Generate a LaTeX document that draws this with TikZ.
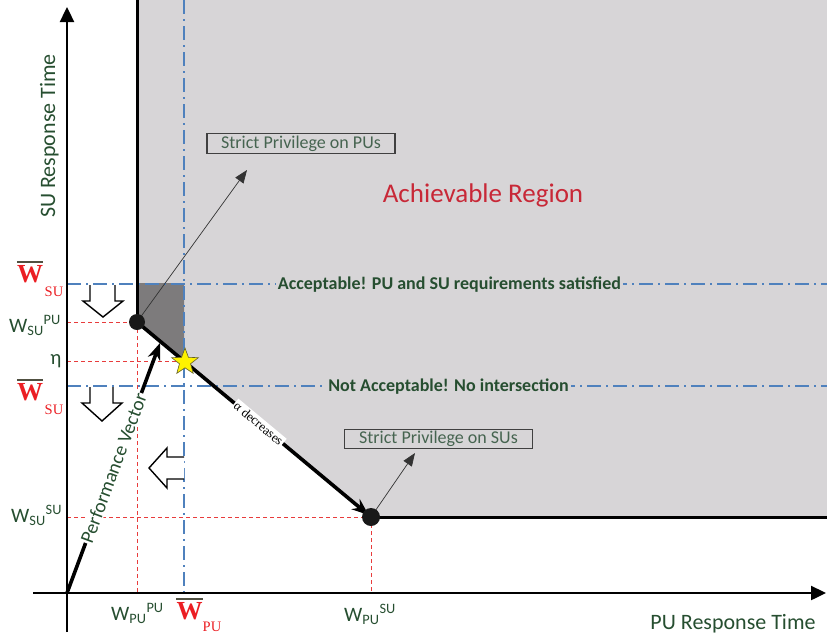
\documentclass[tikz,border=0pt]{standalone}
\usepackage{fontspec}
\setmainfont{Carlito}
\newfontfamily\serifW{Liberation Serif}
\usetikzlibrary{arrows.meta,shapes.geometric}

\definecolor{regiongray}{RGB}{215,213,215}
\definecolor{darkpatch}{RGB}{125,123,124}
\definecolor{lblgreen}{RGB}{38,78,48}
\definecolor{boxgreen}{RGB}{70,100,80}
\definecolor{guideblue}{RGB}{79,129,189}
\definecolor{guidered}{RGB}{232,60,60}
\definecolor{barred}{RGB}{235,30,35}
\definecolor{titlered}{RGB}{200,40,55}
\definecolor{barline}{RGB}{80,80,65}

\newcommand\setfs[1]{\fontsize{#1}{#1}\selectfont}
\newcommand\Wlab[2]{W\textsubscript{#1}\textsuperscript{#2}}

\begin{document}
\begin{tikzpicture}[x=1pt,y=-1pt,
  axisline/.style={line width=2.4pt,-{Triangle[length=15pt,width=14pt]}},
  guide/.style={guideblue,line width=1.4pt,dash pattern=on 14pt off 5pt on 2pt off 5pt},
  reddash/.style={guidered,line width=0.9pt,dash pattern=on 4pt off 3pt},
  boundary/.style={line width=3pt},
  thickarrow/.style={line width=3.6pt,-{Stealth[length=17pt,width=13pt]}},
  thinarrow/.style={draw=black!80,line width=0.7pt,-{Triangle[length=13pt,width=10pt]}},
  blockarrow/.style={draw=black,fill=white,line width=1.4pt,line join=miter},
  privbox/.style={draw=black!75,line width=1.2pt,text=boxgreen,font=\setfs{18},
    minimum width=188pt,minimum height=19.5pt,inner sep=0pt},
  verdict/.style={text=lblgreen,font=\setfs{18}\bfseries,fill=regiongray,inner xsep=2pt,inner ysep=0pt},
  wlab/.style={text=lblgreen,font=\setfs{20.5},inner sep=0pt},
  barW/.style={text=barred,font=\serifW\setfs{26}\bfseries,inner sep=0pt},
  barsub/.style={text=barred,font=\serifW\setfs{14.5},inner sep=0pt},
  overbar/.style={draw=barline,line width=1.3pt},
  axlabel/.style={text=lblgreen,font=\setfs{22},inner sep=0pt},
  dot/.style={fill=black!90}]

\useasboundingbox (0,0) rectangle (827,641);

% key points
\coordinate (O) at (67,593);
\coordinate (yTop) at (67,7);
\coordinate (yBot) at (67,632);
\coordinate (xLeft) at (33,593);
\coordinate (xRight) at (826,593);
\coordinate (A) at (137,322);   % best point for PUs
\coordinate (B) at (371,517);   % best point for SUs
\coordinate (S) at (184,361);   % operating point
\coordinate (P) at (160,343);   % tip of the performance vector

% achievable region
\fill[regiongray] (137,0) -- (827,0) -- (827,517) -- (B) -- (A) -- cycle;
\fill[darkpatch] (137,283) -- (184,283) -- (S) -- (A) -- cycle;

% projections onto the axes
\draw[reddash] (67,322) -- (A);
\draw[reddash] (A) -- (137,593);
\draw[reddash] (67,361) -- (S);
\draw[reddash] (67,517) -- (B);
\draw[reddash] (B) -- (371,593);

% delay thresholds
\draw[guide] (67,284) -- (827,284);
\draw[guide] (67,386) -- (827,386);
\draw[guide] (184,0) -- (184,593);

% axes
\draw[line width=2.4pt] (O) -- (yBot);
\draw[axisline] (yBot) -- (yTop);
\draw[axisline] (xLeft) -- (xRight);

% region boundary
\draw[boundary] (137,0) -- (A);
\draw[boundary] (B) -- (827,517);
\draw[thickarrow,shorten >=3pt] (A) -- node[sloped,pos=0.52,fill=white,inner sep=1.5pt,
  font=\serifW\setfs{13}] (alpha) {α decreases} (B);

% performance vector
\draw[thickarrow] (O) -- node[sloped,pos=0.5,fill=white,inner sep=1pt,text=lblgreen,
  font=\setfs{19.5}] (pv) {Performance Vector} (P);

% hollow block arrows
\draw[blockarrow] (90,285) -- (90,301) -- (83,301) -- (103,317) -- (123,301) -- (115,301) -- (115,285);
\draw[blockarrow] (90,387) -- (90,403) -- (82,403) -- (102,421) -- (122,403) -- (113,403) -- (113,387);
\draw[blockarrow] (184,457) -- (167,457) -- (167,448) -- (149,468) -- (167,488) -- (167,479) -- (184,479);

% privilege annotations
\node[privbox] (boxPU) at (301,143.5) {Strict Privilege on PUs};
\node[privbox] (boxSU) at (438.5,439) {Strict Privilege on SUs};
\coordinate (tipPU) at (247,170);
\coordinate (tipSU) at (415,453);
\draw[thinarrow] (A) -- (tipPU);
\draw[thinarrow] (B) -- (tipSU);

% corner points and operating point
\fill[dot] (A) circle[radius=8pt];
\fill[dot] (B) circle[radius=9pt];
\node[star,star points=5,star point ratio=2.4,fill=yellow,draw=olive!60!black,
  line width=0.6pt,minimum size=28pt,inner sep=0pt] (star) at (185,362) {};

% region texts
\node[text=titlered,font=\setfs{27},anchor=base] (title) at (483,202) {Achievable Region};
\node[verdict,anchor=base] (acc) at (449.5,289) {Acceptable! PU and SU requirements satisfied};
\node[verdict,anchor=base] (nacc) at (448.5,391) {Not Acceptable! No intersection};

% axis titles
\node[axlabel,rotate=90,anchor=base] (ylab) at (55,136) {SU Response Time};
\node[axlabel,anchor=base] (xlab) at (733,629) {PU Response Time};

% tick labels on the SU axis
\node[barW] (wbar1) at (30,274) {W};
\draw[overbar] ([yshift=3pt]wbar1.north west) -- ([yshift=3pt]wbar1.north east);
\node[barsub] (wbar1s) at (54,292) {SU};
\node[wlab,anchor=base west] (wsupu) at (9,332) {\Wlab{SU}{PU}};
\node[wlab,anchor=base] (eta) at (56,364) {η};
\node[barW] (wbar2) at (30,392) {W};
\draw[overbar] ([yshift=3pt]wbar2.north west) -- ([yshift=3pt]wbar2.north east);
\node[barsub] (wbar2s) at (54,410) {SU};
\node[wlab,anchor=base west] (wsusu) at (11,522) {\Wlab{SU}{SU}};

% tick labels on the PU axis
\node[wlab,anchor=base west] (wpupu) at (111,620) {\Wlab{PU}{PU}};
\node[barW] (wbar3) at (189.5,611) {W};
\draw[overbar] ([yshift=3pt]wbar3.north west) -- ([yshift=3pt]wbar3.north east);
\node[barsub] (wbar3s) at (212,627) {PU};
\node[wlab,anchor=base west] (wpusu) at (344,621) {\Wlab{PU}{SU}};

\end{tikzpicture}
\end{document}
